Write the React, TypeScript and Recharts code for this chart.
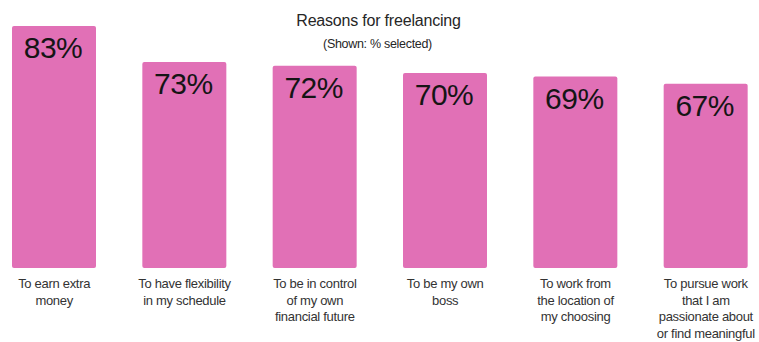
import { BarChart, Bar, XAxis, YAxis, LabelList } from "recharts";

const categories = [
  "To earn extra\nmoney",
  "To have flexibility\nin my schedule",
  "To be in control\nof my own\nfinancial future",
  "To be my own\nboss",
  "To work from\nthe location of\nmy choosing",
  "To pursue work\nthat I am\npassionate about\nor find meaningful",
];
const shares = [83, 73, 72, 70, 69, 67];

const chartTitle = "Reasons for freelancing";
const chartSubtitle = "(Shown: % selected)";

const data = categories.map((reason, i) => ({ reason, value: shares[i] }));

const FONT = '"Liberation Sans", Arial, sans-serif';

interface TickProps {
  x?: number;
  y?: number;
  payload?: { value: string };
}

const ReasonTick = ({ x = 0, y = 0, payload }: TickProps) => {
  const lines = (payload?.value ?? "").split("\n");
  return (
    <text
      x={x}
      y={y}
      textAnchor="middle"
      fill="#333"
      fontSize={13}
      letterSpacing={-0.3}
      fontFamily={FONT}
    >
      {lines.map((line, i) => (
        <tspan key={i} x={x} y={y + 12 + i * 16.5}>
          {line}
        </tspan>
      ))}
    </text>
  );
};

interface LabelProps {
  x?: number;
  y?: number;
  width?: number;
  value?: number;
}

// big percentage printed inside the top of each bar
const ValueLabel = ({ x = 0, y = 0, width = 0, value }: LabelProps) => (
  <text
    x={Number(x) + Number(width) / 2 - 1}
    y={Number(y) + 32}
    textAnchor="middle"
    fill="#151515"
    fontSize={30}
    letterSpacing={-0.5}
    fontFamily={FONT}
  >
    {value}%
  </text>
);

export default function App() {
  return (
    <div
      style={{
        position: "absolute",
        left: 0,
        top: 0,
        width: 759,
        height: 342,
        background: "#fff",
        fontFamily: FONT,
      }}
    >
      <div
        style={{
          position: "absolute",
          left: 0,
          width: 759,
          top: 12,
          textAlign: "center",
          fontSize: 16,
          color: "#262626",
          letterSpacing: -0.2,
        }}
      >
        <span style={{ position: "relative", left: -1 }}>{chartTitle}</span>
      </div>
      <div
        style={{
          position: "absolute",
          left: 0,
          width: 759,
          top: 37,
          textAlign: "center",
          fontSize: 12.5,
          color: "#262626",
          letterSpacing: -0.3,
        }}
      >
        <span style={{ position: "relative", left: -2 }}>{chartSubtitle}</span>
      </div>
      <BarChart
        width={759}
        height={342}
        data={data}
        margin={{ top: 26, right: -12, bottom: 0, left: -11 }}
      >
        <XAxis
          dataKey="reason"
          axisLine={false}
          tickLine={false}
          interval={0}
          height={74}
          tick={<ReasonTick />}
        />
        <YAxis hide type="number" domain={[16, 83]} />
        <Bar
          dataKey="value"
          fill="#E170B6"
          barSize={84}
          radius={[2, 2, 2, 2]}
          isAnimationActive={false}
        >
          <LabelList dataKey="value" content={<ValueLabel />} />
        </Bar>
      </BarChart>
    </div>
  );
}
